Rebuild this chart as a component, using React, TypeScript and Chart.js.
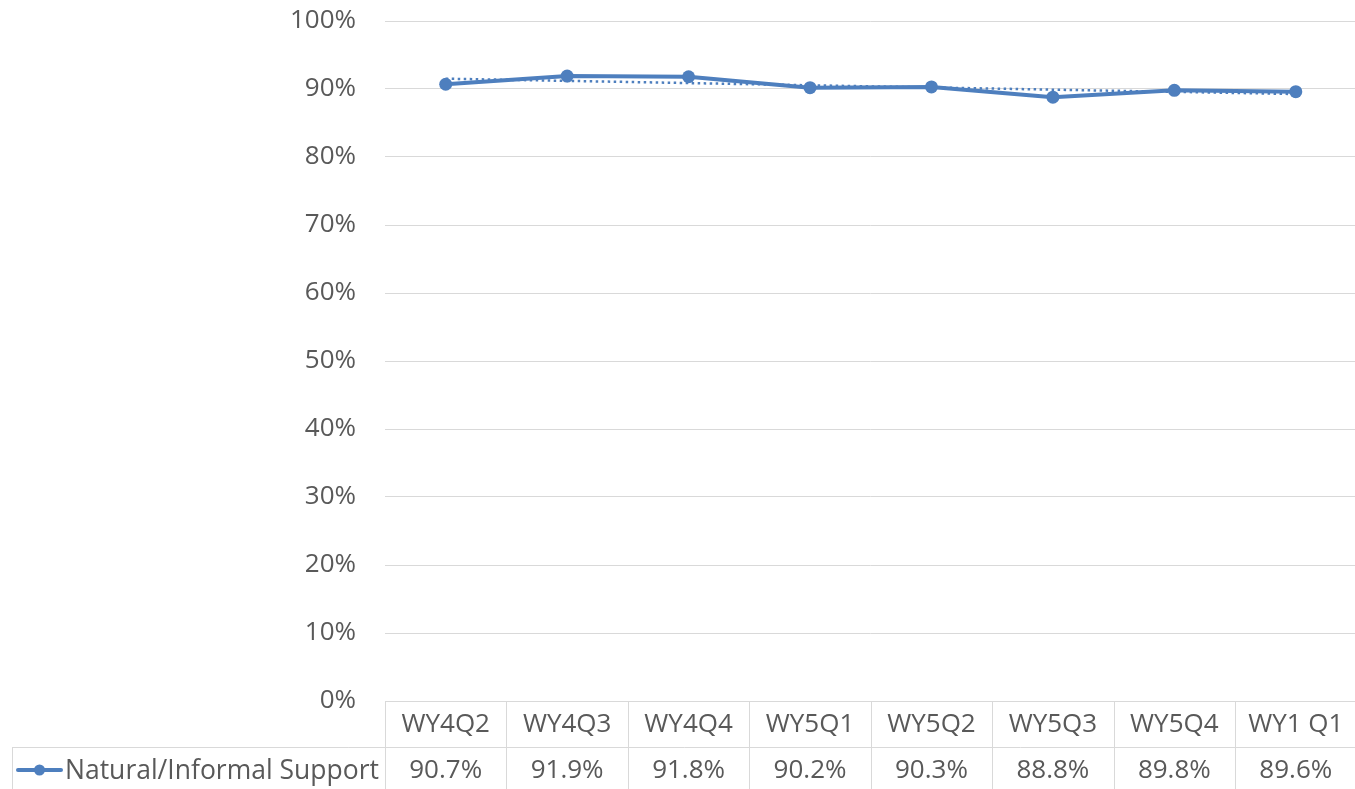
import React, { useEffect, useRef } from 'react';
import { Chart, registerables } from 'chart.js';

Chart.register(...registerables);

const categories = ['WY4Q2', 'WY4Q3', 'WY4Q4', 'WY5Q1', 'WY5Q2', 'WY5Q3', 'WY5Q4', 'WY1 Q1'];
const seriesName = 'Natural/Informal Support';
const seriesValues = [90.7, 91.9, 91.8, 90.2, 90.3, 88.8, 89.8, 89.6];
const yTickMin = 0;
const yTickMax = 100;
const yTickStep = 10;

const BLUE = '#4e7fbe';
const GRID = '#d9d9d9';
const TEXT = '#595959';
const FONT = '"Open Sans", "Noto Sans", sans-serif';

// Excel-style linear trendline (least squares over the series)
function linearTrend(vals: number[]): number[] {
  const n = vals.length;
  const mx = (n - 1) / 2;
  const my = vals.reduce((a, b) => a + b, 0) / n;
  let sxy = 0;
  let sxx = 0;
  vals.forEach((v, i) => {
    sxy += (i - mx) * (v - my);
    sxx += (i - mx) * (i - mx);
  });
  const slope = sxy / sxx;
  return vals.map((_, i) => my + slope * (i - mx));
}

const dataTablePlugin = {
  id: 'dataTable',
  afterDraw(chart: any) {
    const { ctx, chartArea, scales } = chart;
    const x = scales.x;
    const n = categories.length;
    const top = Math.round(chartArea.bottom);
    const rowH = 46;
    const left = chartArea.left;
    const right = chartArea.right;
    const colW = (right - left) / n;
    const tableLeft = 12;
    ctx.save();
    ctx.strokeStyle = GRID;
    ctx.lineWidth = 1;
    const hline = (x1: number, x2: number, y: number) => {
      ctx.beginPath();
      ctx.moveTo(x1, Math.round(y) + 0.5);
      ctx.lineTo(x2, Math.round(y) + 0.5);
      ctx.stroke();
    };
    const vline = (xx: number, y1: number, y2: number) => {
      ctx.beginPath();
      ctx.moveTo(Math.round(xx) + 0.5, y1);
      ctx.lineTo(Math.round(xx) + 0.5, y2);
      ctx.stroke();
    };
    hline(left, right, top);
    hline(tableLeft, right, top + rowH);
    hline(tableLeft, right, top + 2 * rowH);
    vline(tableLeft, top + rowH, top + 2 * rowH);
    for (let k = 0; k <= n; k++) vline(left + k * colW, top, top + 2 * rowH);

    ctx.fillStyle = TEXT;
    ctx.font = `26px ${FONT}`;
    ctx.textAlign = 'center';
    ctx.textBaseline = 'middle';
    categories.forEach((c, i) => {
      ctx.fillText(c, x.getPixelForValue(i), top + rowH / 2 + 1);
    });
    seriesValues.forEach((v, i) => {
      ctx.fillText(v.toFixed(1) + '%', x.getPixelForValue(i), top + rowH * 1.5 + 1);
    });

    // legend key
    const ly = top + rowH * 1.5;
    ctx.strokeStyle = BLUE;
    ctx.lineWidth = 4;
    ctx.lineCap = 'round';
    ctx.beginPath();
    ctx.moveTo(18, ly);
    ctx.lineTo(61, ly);
    ctx.stroke();
    ctx.fillStyle = BLUE;
    ctx.beginPath();
    ctx.arc(39.5, ly, 5.5, 0, Math.PI * 2);
    ctx.fill();
    ctx.fillStyle = TEXT;
    ctx.textAlign = 'left';
    ctx.font = `26.5px ${FONT}`;
    ctx.fillText(seriesName, 65, ly + 1);
    ctx.restore();
  },
};

export default function App() {
  const canvasRef = useRef<HTMLCanvasElement | null>(null);

  useEffect(() => {
    if (!canvasRef.current) return;
    const trend = linearTrend(seriesValues);
    const chart = new Chart(canvasRef.current, {
      type: 'line',
      data: {
        labels: categories,
        datasets: [
          {
            label: seriesName,
            data: seriesValues,
            borderColor: BLUE,
            backgroundColor: BLUE,
            borderWidth: 4,
            pointRadius: 6.5,
            pointBorderWidth: 0,
            pointBackgroundColor: BLUE,
            tension: 0,
            borderJoinStyle: 'round',
            borderCapStyle: 'round',
            order: 1,
          },
          {
            label: 'Linear trend',
            data: trend,
            borderColor: BLUE,
            borderWidth: 2.5,
            borderDash: [2.5, 3.5],
            pointRadius: 0,
            tension: 0,
            order: 2,
          },
        ],
      },
      options: {
        responsive: false,
        animation: false,
        devicePixelRatio: 1,
        layout: { padding: { top: 21, bottom: 88, left: 0, right: 0 } },
        plugins: {
          legend: { display: false },
          tooltip: { enabled: false },
          title: { display: false },
        },
        scales: {
          x: {
            type: 'category',
            offset: true,
            display: false,
          },
          y: {
            min: yTickMin,
            max: yTickMax,
            afterFit(scale: any) {
              scale.width = 385;
              scale.paddingTop = 0;
              scale.paddingBottom = 0;
            },
            ticks: {
              stepSize: yTickStep,
              color: TEXT,
              padding: 29,
              font: { size: 26, family: FONT },
              callback: (v: any) => v + '%',
            },
            grid: { color: GRID, lineWidth: 1, drawTicks: false },
            border: { display: false },
          },
        },
      },
      plugins: [dataTablePlugin],
    });
    return () => chart.destroy();
  }, []);

  return (
    <div
      style={{
        position: 'absolute',
        left: 0,
        top: 0,
        width: 1355,
        height: 789,
        overflow: 'hidden',
        background: '#fff',
      }}
    >
      <canvas ref={canvasRef} width={1363} height={789} style={{ display: 'block' }} />
    </div>
  );
}
